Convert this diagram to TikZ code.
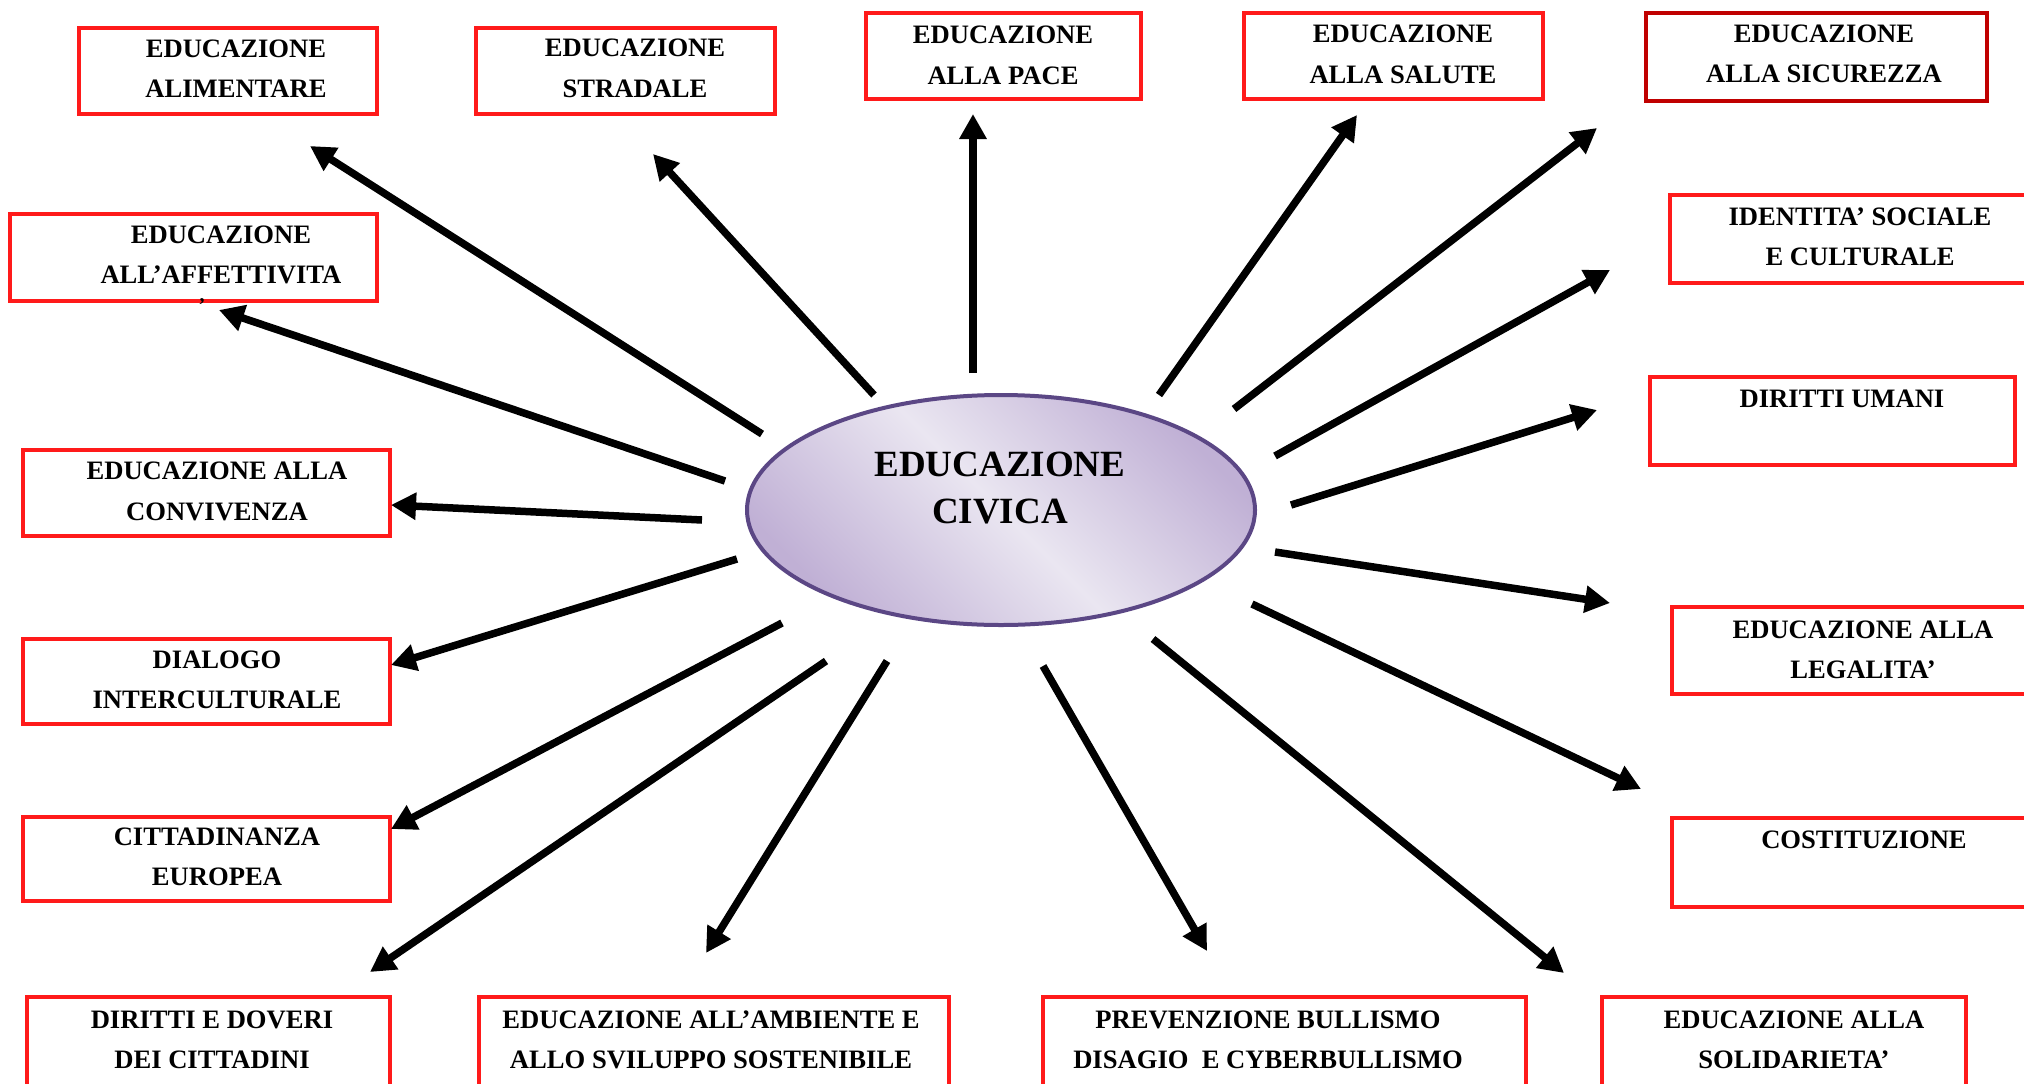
\documentclass[tikz,border=0pt]{standalone}
\usepackage{fontspec}
\setmainfont{Liberation Serif}
\usetikzlibrary{arrows.meta,shapes.geometric}
\definecolor{boxred}{HTML}{FF1A1A}
\definecolor{darkred}{HTML}{C00000}
\definecolor{ellborder}{HTML}{5B4785}
\definecolor{elldark}{HTML}{C0B0D5}
\definecolor{elllight}{HTML}{EAE6F1}
\begin{document}
\begin{tikzpicture}[x=1pt,y=-1pt,
  redbox/.style={draw=boxred, line width=3.5pt, fill=white, inner sep=0pt, rectangle},
  lbl/.style={font=\fontsize{26.6}{40.5}\selectfont\bfseries, align=center, inner sep=0pt},
  ray/.style={line width=7.5pt, -{Triangle[length=25pt,width=26pt]}},
]
\useasboundingbox (0,0) rectangle (2024,1084);
\fill[white] (0,0) rectangle (2024,1084);

% central ellipse
\node[ellipse, draw=ellborder, line width=4pt, minimum width=508pt, minimum height=230pt,
  top color=elldark, bottom color=elldark, middle color=elllight, shading angle=-45] (ec) at (1001,510) {};
\node[lbl, font=\fontsize{37}{47}\selectfont\bfseries] (ect) at (1000,488) {EDUCAZIONE\\CIVICA};

% boxes
\node[redbox, minimum width=298pt, minimum height=86pt] (b1) at (228,71) {};
\node[lbl] (t1) at (236,68.5) {EDUCAZIONE\\ALIMENTARE};
\node[redbox, minimum width=299pt, minimum height=86pt] (b2) at (625.5,71) {};
\node[lbl] (t2) at (635,68.5) {EDUCAZIONE\\STRADALE};
\node[redbox, minimum width=275pt, minimum height=86pt] (b3) at (1003.5,56) {};
\node[lbl] (t3) at (1003,55.5) {EDUCAZIONE\\ALLA PACE};
\node[redbox, minimum width=299pt, minimum height=86pt] (b4) at (1393.5,56) {};
\node[lbl] (t4) at (1403,54.5) {EDUCAZIONE\\ALLA SALUTE};
\node[redbox, draw=darkred, minimum width=341pt, minimum height=88pt] (b5) at (1816.5,57) {};
\node[lbl] (t5) at (1824,54) {EDUCAZIONE\\ALLA SICUREZZA};
\node[redbox, minimum width=370pt, minimum height=88pt] (b6) at (1855,239) {};
\node[lbl] (t6) at (1860,237) {IDENTITA’ SOCIALE\\E CULTURALE};
\node[redbox, minimum width=365pt, minimum height=88pt] (b7) at (1832.5,421) {};
\node[lbl] (t7) at (1842,399) {DIRITTI UMANI};
\node[redbox, minimum width=368pt, minimum height=87pt] (b8) at (1856,650.5) {};
\node[lbl] (t8) at (1863,650) {EDUCAZIONE ALLA\\LEGALITA’};
\node[redbox, minimum width=368pt, minimum height=89pt] (b9) at (1856,862.5) {};
\node[lbl] (t9) at (1864,840) {COSTITUZIONE};
\node[redbox, minimum width=364pt, minimum height=103pt] (b10) at (1784,1048.5) {};
\node[lbl] (t10) at (1794,1040) {EDUCAZIONE ALLA\\SOLIDARIETA’};
\node[redbox, minimum width=483pt, minimum height=103pt] (b11) at (1284.5,1048.5) {};
\node[lbl] (t11) at (1268,1040) {PREVENZIONE BULLISMO\\DISAGIO\ \ E CYBERBULLISMO};
\node[redbox, minimum width=470pt, minimum height=103pt] (b12) at (714,1048.5) {};
\node[lbl] (t12) at (711,1040) {EDUCAZIONE ALL’AMBIENTE E\\ALLO SVILUPPO SOSTENIBILE};
\node[redbox, minimum width=363pt, minimum height=103pt] (b13) at (208.5,1048.5) {};
\node[lbl] (t13) at (212,1040) {DIRITTI E DOVERI\\DEI CITTADINI};
\node[redbox, minimum width=367pt, minimum height=84pt] (b14) at (206.5,859) {};
\node[lbl] (t14) at (217,857) {CITTADINANZA\\EUROPEA};
\node[redbox, minimum width=367pt, minimum height=85pt] (b15) at (206.5,681.5) {};
\node[lbl] (t15) at (217,680) {DIALOGO\\INTERCULTURALE};
\node[redbox, minimum width=367pt, minimum height=86pt] (b16) at (206.5,493) {};
\node[lbl] (t16) at (217,491.5) {EDUCAZIONE ALLA\\CONVIVENZA};
\node[redbox, minimum width=367pt, minimum height=87pt] (b17) at (193.5,257.5) {};
\node[lbl] (t17) at (221,255) {EDUCAZIONE\\ALL’AFFETTIVITA};
\node[lbl, font=\fontsize{20}{24}\selectfont\bfseries] (comma) at (202,302) {,};

% arrow end points
\coordinate (sa) at (762,434);  \coordinate (ea) at (310,146);
\coordinate (sb) at (725,481);  \coordinate (eb) at (219,310);
\coordinate (sc) at (874,395);  \coordinate (ec2) at (653,154);
\coordinate (sd) at (973,373);  \coordinate (ed) at (973,114);
\coordinate (se) at (1159,395); \coordinate (ee) at (1357,115);
\coordinate (sf) at (1234,409); \coordinate (ef) at (1597,128);
\coordinate (sg) at (1275,456); \coordinate (eg) at (1610,270);
\coordinate (sh) at (1291,505); \coordinate (eh) at (1597,410);
\coordinate (si) at (1275,552); \coordinate (ei) at (1610,603);
\coordinate (sj) at (1252,604); \coordinate (ej) at (1641,789);
\coordinate (sk) at (1153,639); \coordinate (ek) at (1564,973);
\coordinate (sl) at (1043,666); \coordinate (el) at (1207,951);
\coordinate (sm) at (887,661);  \coordinate (em) at (706,953);
\coordinate (sn) at (826,661);  \coordinate (en) at (370,972);
\coordinate (so) at (782,623);  \coordinate (eo) at (391,829);
\coordinate (sp) at (737,559);  \coordinate (ep) at (391,665);
\coordinate (sq) at (702,520);  \coordinate (eq) at (391,505);

\foreach \s/\e in {sa/ea,sb/eb,sc/ec2,sd/ed,se/ee,sf/ef,sg/eg,sh/eh,si/ei,sj/ej,sk/ek,sl/el,sm/em,sn/en,so/eo,sp/ep,sq/eq}
  \draw[ray] (\s) -- (\e);
\end{tikzpicture}
\end{document}
